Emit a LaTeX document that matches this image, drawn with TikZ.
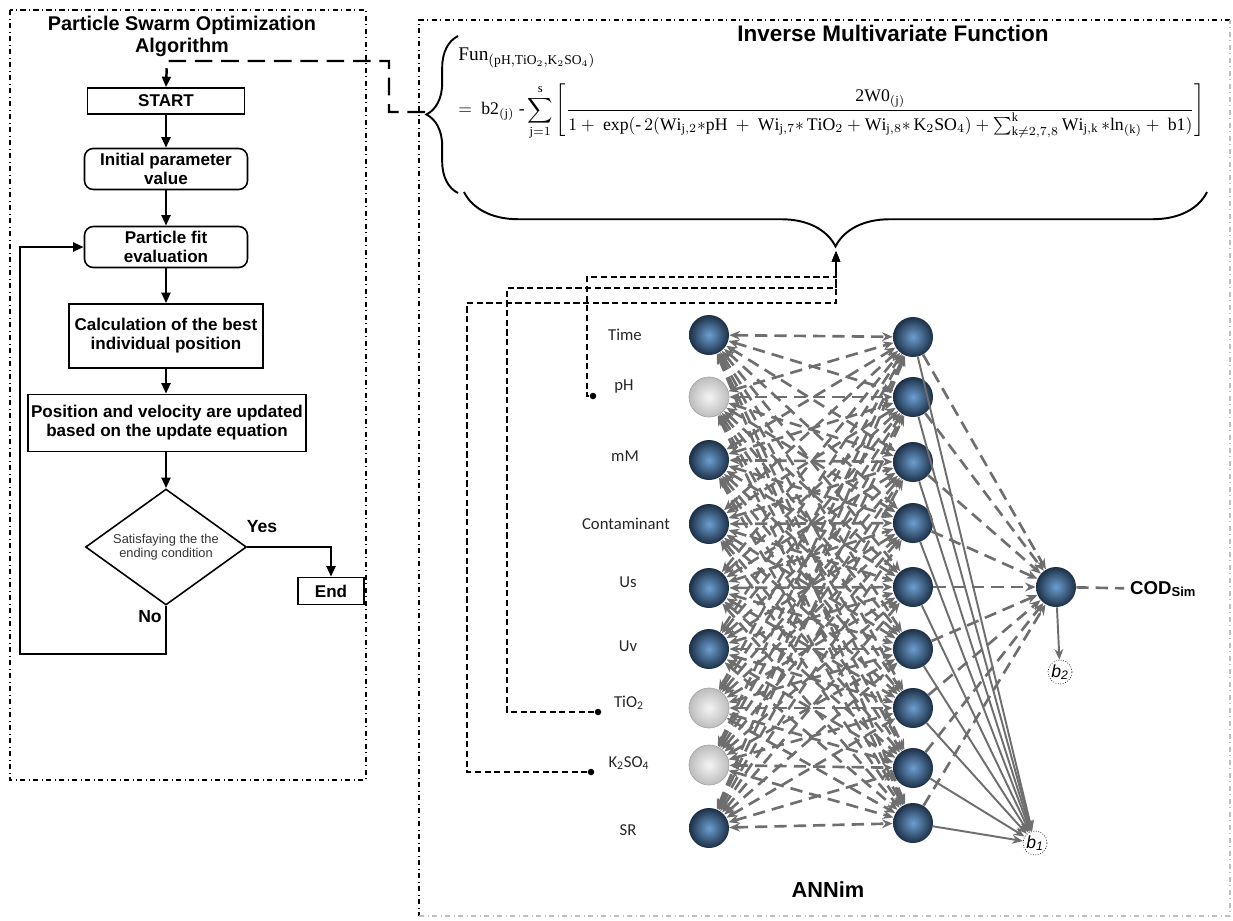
\documentclass[tikz,border=0pt]{standalone}
\usepackage{amsmath}
\usepackage{fontspec}
\setmainfont{Liberation Serif}
\setsansfont{Liberation Sans}
\newfontfamily\calibfont{Carlito}
\usetikzlibrary{arrows.meta,shapes.geometric,decorations.pathreplacing}

\definecolor{nnblueA}{HTML}{6C9FD2}
\definecolor{nnblueB}{HTML}{1C2F45}
\definecolor{nngrayA}{HTML}{F4F4F4}
\definecolor{nngrayB}{HTML}{BDBDBD}
\definecolor{edgegray}{HTML}{6E6E6E}

\tikzset{
  frameline/.style={dash dot, line width=0.7pt},
  psobox/.style={draw, line width=0.9pt, align=center, inner sep=1pt,
    font=\sffamily\bfseries\fontsize{9.7}{10.8}\selectfont},
  psoround/.style={psobox, rounded corners=5pt},
  flowarrow/.style={line width=1.4pt, -{Triangle[length=6pt,width=5pt]}},
  psolink/.style={line width=1.4pt, dash pattern=on 10pt off 5pt, -{Triangle[length=6pt,width=5pt]}},
  fbline/.style={line width=1.2pt, dash pattern=on 3.5pt off 2pt, -{Triangle[length=6pt,width=4.5pt]}},
  bluenode/.style={circle, minimum size=0.8cm, inner sep=0pt, inner color=nnblueA, outer color=nnblueB},
  graynode/.style={circle, minimum size=0.8cm, inner sep=0pt, inner color=nngrayA, outer color=nngrayB, draw=gray!70},
  inlabel/.style={font=\calibfont\fontsize{9.5}{11}\selectfont, text=black!85},
  dotnode/.style={circle, fill=black, inner sep=0pt, minimum size=0.13cm},
  biasnode/.style={circle, draw, densely dotted, minimum size=0.48cm, inner sep=0pt, font=\sffamily\itshape\fontsize{10}{12}\selectfont},
  nnedge/.style={edgegray, line width=1.5pt, dash pattern=on 7pt off 4pt, {Stealth[length=6pt,width=5pt]}-{Stealth[length=6pt,width=5pt]}},
  outedge/.style={edgegray, line width=1.5pt, dash pattern=on 7pt off 4pt, -{Stealth[length=6pt,width=5pt]}},
  biasedge/.style={edgegray, line width=1.1pt, -{Stealth[length=6pt,width=5pt]}}
}

\begin{document}
\begin{tikzpicture}[x=0.02cm, y=-0.02cm]
\useasboundingbox (0,0) rectangle (1233,920);

% PSO frame and flowchart
\draw[frameline] (10,10) rectangle (366,780);
\node[font=\sffamily\bfseries\fontsize{11.3}{12.5}\selectfont, align=center] (psotitle) at (182,36) {Particle Swarm Optimization\\Algorithm};

\node[psobox, minimum width=3.14cm, minimum height=0.52cm] (start) at (166,101) {START};
\node[psoround, minimum width=3.26cm, minimum height=0.82cm] (init) at (166,169) {Initial parameter\\value};
\node[psoround, minimum width=3.26cm, minimum height=0.82cm] (fit) at (166,247) {Particle fit\\evaluation};
\node[psobox, minimum width=3.88cm, minimum height=1.28cm] (calc) at (166,336) {Calculation of the best\\individual position};
\node[psobox, minimum width=5.56cm, minimum height=1.14cm] (upd) at (167,423) {Position and velocity are updated\\based on the update equation};
\node[draw, diamond, aspect=1.39, line width=0.9pt, minimum width=3.22cm, minimum height=2.32cm, inner sep=0pt, align=center,
  font=\sffamily\fontsize{7.3}{8}\selectfont, text=black!80] (cond) at (166,547) {Satisfaying the the\\ending condition};
\node[psobox, minimum width=1.32cm, minimum height=0.54cm] (endbox) at (331,591) {End};
\node[font=\sffamily\bfseries\fontsize{10}{12}\selectfont] (yeslab) at (262,527) {Yes};
\node[font=\sffamily\bfseries\fontsize{10}{12}\selectfont] (nolab) at (150,617) {No};

\draw[flowarrow] (start) -- (init);
\draw[flowarrow] (init) -- (fit);
\draw[flowarrow] (fit) -- (calc);
\draw[flowarrow] (calc) -- (calc |- upd.north);
\draw[flowarrow] (upd.south -| cond.north) -- (cond);
\draw[flowarrow] (cond.east) -| (endbox);
\draw[flowarrow] (cond.south) -- (166,654) -- (20,654) |- (fit.west);

% link from the function to START
\coordinate (fbtip) at (425,112);
\draw[psolink] (fbtip) -- (389,112) -- (389,61) -- (167,61) -- (start.north);

% function frame
\draw[frameline] (1230,20) -- (419,20) -- (419,916);
\draw[frameline, black!25] (419,916) -- (1230,916) -- (1230,20);
\node[font=\sffamily\bfseries\fontsize{12.8}{14}\selectfont] (imftitle) at (893,33) {Inverse Multivariate Function};

\node[anchor=west, font=\fontsize{11}{13}\selectfont, inner sep=0pt] (funlhs) at (458,58)
  {$\mathrm{Fun}_{(\mathrm{pH},\mathrm{TiO}_2,\mathrm{K}_2\mathrm{SO}_4)}$};
\node[anchor=west, font=\fontsize{10.1}{12}\selectfont, inner sep=0pt] (funrhs) at (458,112)
  {$\displaystyle =\ \mathrm{b2}_{(\mathrm{j})}\ \text{-}\sum_{\mathrm{j}=1}^{\mathrm{s}}\left[\dfrac{\mathrm{2W0}_{(\mathrm{j})}}{1+\ \exp(\text{-}\,2(\mathrm{Wi}_{\mathrm{j},2}{*}\mathrm{pH}\ +\ \mathrm{Wi}_{\mathrm{j},7}{*}\,\mathrm{TiO}_2+\mathrm{Wi}_{\mathrm{j},8}{*}\,\mathrm{K}_2\mathrm{SO}_4)+\sum_{\mathrm{k}\neq2,7,8}^{\mathrm{k}}\mathrm{Wi}_{\mathrm{j},\mathrm{k}}\,{*}\mathrm{ln}_{(\mathrm{k})}+\ \mathrm{b1})}\right]$};

\draw[line width=1.1pt, decorate, decoration={brace, amplitude=18pt}] (458,193) -- (458,36);
\draw[line width=1.1pt, decorate, decoration={brace, amplitude=31pt}] (1207,192) -- (464,192);
\coordinate (hbtip) at (836,251);

% ANN inputs
\node[bluenode] (in1) at (709,335) {};
\node[graynode] (in2) at (709,397) {};
\node[bluenode] (in3) at (709,460) {};
\node[bluenode] (in4) at (709,524) {};
\node[bluenode] (in5) at (709,588) {};
\node[bluenode] (in6) at (709,649) {};
\node[graynode] (in7) at (709,708) {};
\node[graynode] (in8) at (709,765) {};
\node[bluenode] (in9) at (709,828) {};

\node[inlabel] (lab1) at (625,335) {Time};
\node[inlabel] (lab2) at (624,386) {pH};
\node[inlabel] (lab3) at (625,456) {mM};
\node[inlabel] (lab4) at (626,524) {Contaminant};
\node[inlabel] (lab5) at (628,582) {Us};
\node[inlabel] (lab6) at (628,646) {Uv};
\node[inlabel] (lab7) at (629,703) {TiO\textsubscript{2}};
\node[inlabel] (lab8) at (629,763) {K\textsubscript{2}SO\textsubscript{4}};
\node[inlabel] (lab9) at (628,830) {SR};

% hidden layer
\node[bluenode] (h1) at (913,337) {};
\node[bluenode] (h2) at (913,397) {};
\node[bluenode] (h3) at (913,462) {};
\node[bluenode] (h4) at (913,523) {};
\node[bluenode] (h5) at (913,587) {};
\node[bluenode] (h6) at (913,649) {};
\node[bluenode] (h7) at (913,708) {};
\node[bluenode] (h8) at (913,768) {};
\node[bluenode] (h9) at (913,823) {};

\node[bluenode] (out) at (1056,587) {};
\node[biasnode] (btwo) at (1060,672) {b\textsubscript{2}};
\node[biasnode] (bone) at (1035,843) {b\textsubscript{1}};
\node[anchor=west, font=\sffamily\bfseries\fontsize{10.6}{12}\selectfont] (cod) at (1124,589) {COD\textsubscript{Sim}};
\node[font=\sffamily\bfseries\fontsize{12.4}{14}\selectfont] (annlabel) at (828,890) {ANNim};

\foreach \i in {1,...,9}
  \foreach \j in {1,...,9}
    \draw[nnedge] (in\i) -- (h\j);
\foreach \j in {1,...,9} {
  \draw[biasedge] (h\j) -- (bone);
  \draw[outedge] (h\j) -- (out);
}
\draw[biasedge] (out) -- (btwo);
\draw[edgegray, line width=1.5pt, dash pattern=on 7pt off 4pt] (out) -- (cod);

% selected inputs back to the function
\node[dotnode] (pHdot) at (593,396) {};
\node[dotnode] (tidot) at (598,712) {};
\node[dotnode] (kdot) at (591,772) {};
\draw[fbline] (pHdot) -- (587,396) -- (587,277) -- (836,277) -- (hbtip);
\draw[fbline] (tidot) -- (507,712) -- (507,288) -- (836,288) -- (hbtip);
\draw[fbline] (kdot) -- (467,772) -- (467,303) -- (836,303) -- (hbtip);
\end{tikzpicture}
\end{document}
